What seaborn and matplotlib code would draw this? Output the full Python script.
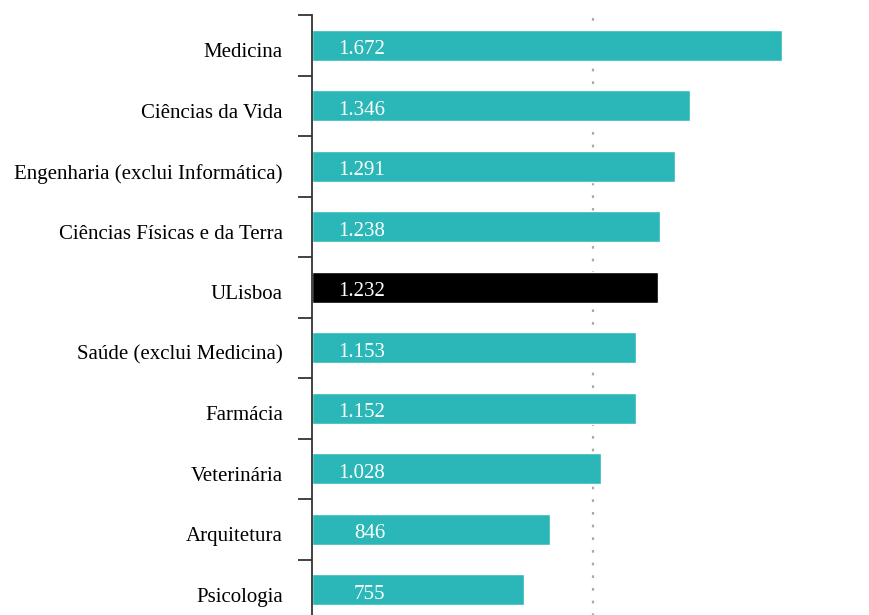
import numpy as np
import matplotlib.pyplot as plt
import matplotlib.transforms as mtransforms
import pandas as pd
import seaborn as sns

categories = ['Medicina', 'Ciências da Vida', 'Engenharia (exclui Informática)',
              'Ciências Físicas e da Terra', 'ULisboa', 'Saúde (exclui Medicina)',
              'Farmácia', 'Veterinária', 'Arquitetura', 'Psicologia']
values = [1672, 1346, 1291, 1238, 1232, 1153, 1152, 1028, 846, 755]
reference = 1000

teal = '#2bb7b7'
colors = {c: ('#000000' if c == 'ULisboa' else teal) for c in categories}

df = pd.DataFrame({'area': categories, 'valor': values})

sns.set_style('white')
plt.rcParams['font.family'] = ['Liberation Serif', 'DejaVu Serif']

fig = plt.figure(figsize=(8.69, 6.15), dpi=100)
ax = fig.add_axes([312 / 869, -5 / 615, (846 - 312) / 869, 605 / 615])

sns.barplot(data=df, x='valor', y='area', hue='area', palette=colors,
            width=0.51, legend=False, ax=ax, saturation=1)

ax.axvline(reference, color='#aaaaaa', linestyle=(0, (1.2, 4.5)), lw=1.6, zorder=0)

down2 = mtransforms.ScaledTranslation(0, -2 / 100, fig.dpi_scale_trans)
for i, v in enumerate(values):
    ax.text(260, i, f"{v:,}".replace(',', '.'), color='white', fontsize=15,
            ha='right', va='center_baseline', transform=ax.transData + down2)

ax.set_xlim(0, 1900)
ax.set_ylim(len(categories) - 0.5, -0.5)
ax.set_xlabel('')
ax.set_ylabel('')
ax.set_xticks([])

for s in ['top', 'right', 'bottom']:
    ax.spines[s].set_visible(False)
ax.spines['left'].set_color('#333333')
ax.spines['left'].set_linewidth(1.3)

ax.set_yticks(np.arange(len(categories)))
ax.set_yticklabels(categories, fontsize=15, color='black')
ax.set_yticks(np.arange(len(categories) + 1) - 0.5, minor=True)
ax.tick_params(axis='y', which='both', left=True)
ax.tick_params(axis='y', which='major', length=0, pad=21)
ax.tick_params(axis='y', which='minor', length=10, width=1.2, color='#222222')

down5 = mtransforms.ScaledTranslation(0, -5 / 100, fig.dpi_scale_trans)
for lbl in ax.get_yticklabels():
    lbl.set_transform(lbl.get_transform() + down5)

fig.savefig('out.png', dpi=100)
